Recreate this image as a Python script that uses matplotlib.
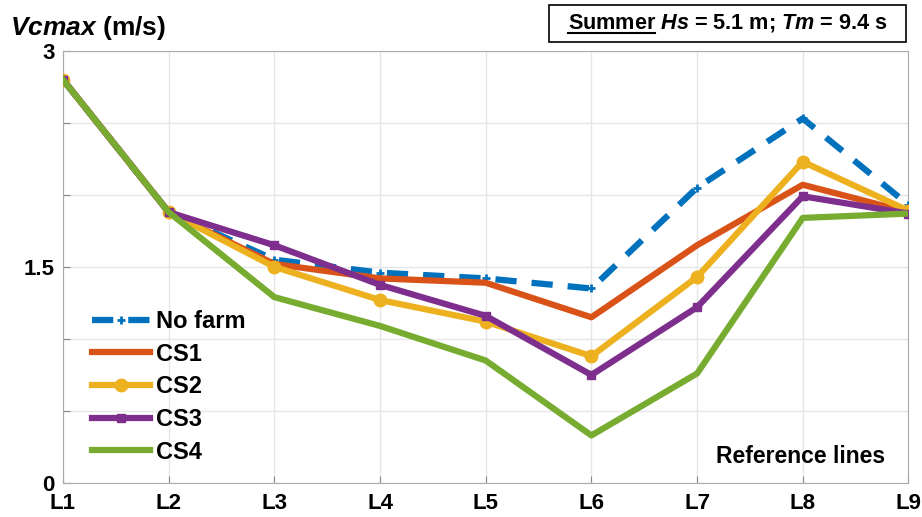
import matplotlib
matplotlib.use("Agg")
import matplotlib.pyplot as plt
from matplotlib.patches import Rectangle
from matplotlib.lines import Line2D
import numpy as np

plt.rcParams['font.family'] = ['Liberation Sans', 'DejaVu Sans']
plt.rcParams['font.weight'] = 'bold'
plt.rcParams['mathtext.fontset'] = 'custom'
plt.rcParams['mathtext.rm'] = 'Liberation Sans:bold'
plt.rcParams['mathtext.it'] = 'Liberation Sans:bold:italic'
plt.rcParams['mathtext.bf'] = 'Liberation Sans:bold'

lines_labels = ["L1", "L2", "L3", "L4", "L5", "L6", "L7", "L8", "L9"]
no_farm = [2.80, 1.88, 1.55, 1.46, 1.42, 1.35, 2.05, 2.53, 1.93]
cs1 = [2.80, 1.88, 1.52, 1.42, 1.39, 1.15, 1.65, 2.07, 1.88]
cs2 = [2.80, 1.88, 1.50, 1.27, 1.12, 0.88, 1.43, 2.23, 1.89]
cs3 = [2.80, 1.88, 1.65, 1.375, 1.16, 0.75, 1.22, 1.99, 1.87]
cs4 = [2.80, 1.88, 1.29, 1.09, 0.85, 0.33, 0.76, 1.84, 1.87]

W, H = 922, 517
fig = plt.figure(figsize=(W / 100, H / 100), dpi=100)
ax = fig.add_axes([0.0683, 0.0658, 0.917, 0.836])
x = np.arange(len(lines_labels))

lw = 4.5
ax.plot(x, no_farm, color='#0072BD', lw=lw, ls=(0, (3.4, 2.4)), marker='+', ms=6, mew=2, label='No farm', zorder=3)
ax.plot(x, cs1, color='#D95319', lw=lw, label='CS1', zorder=4)
ax.plot(x, cs2, color='#EDB120', lw=lw, marker='o', ms=9, label='CS2', zorder=5)
ax.plot(x, cs3, color='#7E2F8E', lw=lw, marker='s', ms=6, label='CS3', zorder=6)
ax.plot(x, cs4, color='#77AC30', lw=lw, label='CS4', zorder=7)

ax.set_xlim(0, 8)
ax.set_ylim(0, 3)
ax.set_xticks(x)
ax.set_xticklabels(lines_labels, fontsize=16, fontweight='bold')
ax.set_yticks(np.arange(0, 3.01, 0.5))
ax.set_yticklabels(['0', '', '', '1.5', '', '', '3'], fontsize=16, fontweight='bold')
ax.tick_params(direction='in', length=5, color='#888888', pad=6)
ax.tick_params(axis='x', pad=7)
ax.grid(True, color='#e6e6e6', lw=1)
ax.set_axisbelow(True)
for s in ax.spines.values():
    s.set_color('#aaaaaa')

leg = ax.legend(loc='lower left', bbox_to_anchor=(0.018, 0.012), frameon=False,
                prop={'size': 17, 'weight': 'bold'}, handlelength=2.45,
                labelspacing=0.41, handletextpad=0.25, borderaxespad=0.2)

ax.text(0.972, 0.035, 'Reference lines', transform=ax.transAxes, ha='right', va='bottom',
        fontsize=16.5, fontweight='bold')

fig.text(0.011, 0.945, r'$\mathit{Vcmax}$ (m/s)', fontsize=19, fontweight='bold', va='center', ha='left')

# title box
x0, x1, y0, y1 = 549, 906, 5, 42
fig.add_artist(Rectangle((x0 / W, 1 - y1 / H), (x1 - x0) / W, (y1 - y0) / H,
                         transform=fig.transFigure, fc='white', ec='black', lw=1.2))
cx = (x0 + x1) / 2 / W
cy = 1 - (y0 + y1) / 2 / H
t = fig.text(cx, cy, r'Summer $\mathit{Hs}$ = 5.1 m; $\mathit{Tm}$ = 9.4 s',
             fontsize=15.6, ha='center', va='center', fontweight='bold')
fig.canvas.draw()
r = fig.canvas.get_renderer()
bb = t.get_window_extent(r)
t2 = fig.text(0, 0, 'Summer', fontsize=15.6, fontweight='bold')
bb2 = t2.get_window_extent(r)
t2.remove()
uy = bb.y0 + 2
fig.add_artist(Line2D([bb.x0 / W, (bb.x0 + bb2.width) / W], [uy / H, uy / H],
                      transform=fig.transFigure, color='black', lw=1.5))

fig.savefig('out.png', dpi=100)
